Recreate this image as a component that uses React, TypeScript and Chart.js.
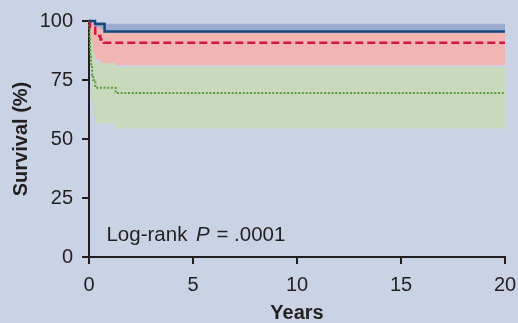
import React, { useEffect, useRef } from "react";
import { Chart, registerables } from "chart.js";

Chart.register(...registerables);

// Kaplan-Meier survival data (years, survival %)
const blueTimes = [0, 0.29, 0.75, 20];
const blueSurv = [100, 98.7, 95.6, 95.6];
const blueBandUpper = [100, 99.6, 98.8, 98.8];
const blueBandLower = [100, 96, 91, 91];

const redTimes = [0, 0.05, 0.3, 0.55, 0.72, 20];
const redSurv = [100, 97.2, 93.6, 92.2, 90.8, 90.8];
const redBandUpper = [100, 99.5, 97.5, 96.5, 95, 95];
const redBandLower = [100, 86, 83.7, 82.2, 81.3, 81.3];

const greenTimes = [0, 0.01, 0.03, 0.05, 0.07, 0.1, 0.15, 0.2, 0.3, 1.28, 20];
const greenSurv = [100, 97, 93, 89, 85, 81, 77, 75, 71.7, 69.5, 69.5];
const greenBandTimes = [0, 0.05, 0.1, 0.2, 0.3, 1.28, 20];
const greenBandUpper = [100, 96, 91, 86, 82.2, 80.5, 80.5];
const greenBandLower = [100, 80, 66, 60, 56.8, 54.4, 54.4];

const xTicks = [0, 5, 10, 15, 20];
const yTicks = [0, 25, 50, 75, 100];

const pts = (xs: number[], ys: number[]) => xs.map((x, i) => ({ x, y: ys[i] }));

const BG = "#c9d3e5";
const INK = "#231f20";
const FONT = "'Liberation Sans', Arial, sans-serif";

const annotation = {
  id: "logrank",
  afterDraw(chart: any) {
    const { ctx, scales } = chart;
    let x = scales.x.getPixelForValue(0.84);
    const y0 = scales.y.getPixelForValue(6.7);
    ctx.save();
    ctx.fillStyle = INK;
    ctx.textBaseline = "alphabetic";
    ctx.textAlign = "left";
    const reg = `20.5px ${FONT}`;
    ctx.font = reg;
    ctx.fillText("Log-rank", x, y0);
    x += ctx.measureText("Log-rank ").width + 3;
    ctx.font = `italic 20.5px ${FONT}`;
    ctx.fillText("P", x, y0);
    x += ctx.measureText("P").width + 1;
    ctx.font = reg;
    x += ctx.measureText(" ").width;
    ctx.fillText("=", x, y0);
    x += ctx.measureText("= ").width;
    ctx.fillText(".0001", x, y0);
    ctx.restore();
  },
};

export default function App() {
  const ref = useRef<HTMLCanvasElement>(null);
  useEffect(() => {
    document.body.style.margin = "0";
    document.body.style.background = BG;
    const band = (data: any[], color: string, fill: any, order: number) => ({
      data,
      borderWidth: 0,
      pointRadius: 0,
      stepped: "before" as const,
      backgroundColor: color,
      borderColor: "rgba(0,0,0,0)",
      fill,
      order,
    });
    const chart = new Chart(ref.current!, {
      type: "line",
      data: {
        datasets: [
          band(pts(blueTimes, blueBandUpper), "#9badcf", false, 11),
          band(pts(blueTimes, blueBandLower), "#9badcf", 0, 10),
          band(pts(redTimes, redBandUpper), "#f1b6b1", false, 9),
          band(pts(redTimes, redBandLower), "#f1b6b1", 2, 8),
          band(pts(greenBandTimes, greenBandUpper), "#c9d9bb", false, 7),
          band(pts(greenBandTimes, greenBandLower), "#c9d9bb", 4, 6),
          {
            data: pts(greenTimes, greenSurv),
            borderColor: "#5a9b3c",
            borderWidth: 2,
            borderDash: [2, 1.7],
            pointRadius: 0,
            stepped: "before",
            fill: false,
            order: 2,
          },
          {
            data: pts(redTimes, redSurv),
            borderColor: "#d2164a",
            borderWidth: 2.5,
            borderDash: [8, 4],
            pointRadius: 0,
            stepped: "before",
            fill: false,
            order: 1,
          },
          {
            data: pts(blueTimes, blueSurv),
            borderColor: "#17477f",
            borderWidth: 2.5,
            pointRadius: 0,
            stepped: "before",
            fill: false,
            order: 0,
          },
        ] as any,
      },
      options: {
        responsive: false,
        animation: false,
        clip: false as any,
        layout: { padding: { left: 0, right: 13, top: 21, bottom: 0 } },
        plugins: { legend: { display: false }, tooltip: { enabled: false } },
        scales: {
          x: {
            type: "linear",
            min: 0,
            max: 20,
            afterFit: (s: any) => {
              s.height = 66;
              s.paddingLeft = 0;
              s.paddingRight = 0;
            },
            afterBuildTicks: (s: any) => {
              s.ticks = xTicks.map((v) => ({ value: v }));
            },
            ticks: { color: INK, font: { family: FONT, size: 20 }, padding: 9 },
            grid: { display: true, drawOnChartArea: false, drawTicks: true, tickLength: 7, color: INK, lineWidth: 2 },
            border: { display: true, color: INK, width: 2 },
            title: { display: true, text: "Years", color: INK, font: { family: FONT, size: 20, weight: "bold" }, padding: { top: 0, bottom: -2 } },
          },
          y: {
            type: "linear",
            min: 0,
            max: 100,
            afterFit: (s: any) => {
              s.width = 89;
              s.paddingTop = 0;
              s.paddingBottom = 0;
            },
            afterBuildTicks: (s: any) => {
              s.ticks = yTicks.map((v) => ({ value: v }));
            },
            ticks: { color: INK, font: { family: FONT, size: 20 }, padding: 9 },
            grid: { display: true, drawOnChartArea: false, drawTicks: true, tickLength: 7, color: INK, lineWidth: 2 },
            border: { display: true, color: INK, width: 2 },
            title: { display: true, text: "Survival (%)", color: INK, font: { family: FONT, size: 20, weight: "bold" }, padding: { top: 9, bottom: 0 } },
          },
        },
      },
      plugins: [annotation],
    });
    return () => chart.destroy();
  }, []);
  return (
    <div style={{ width: 518, height: 323, background: BG }}>
      <canvas ref={ref} width={518} height={323} style={{ display: "block" }} />
    </div>
  );
}
